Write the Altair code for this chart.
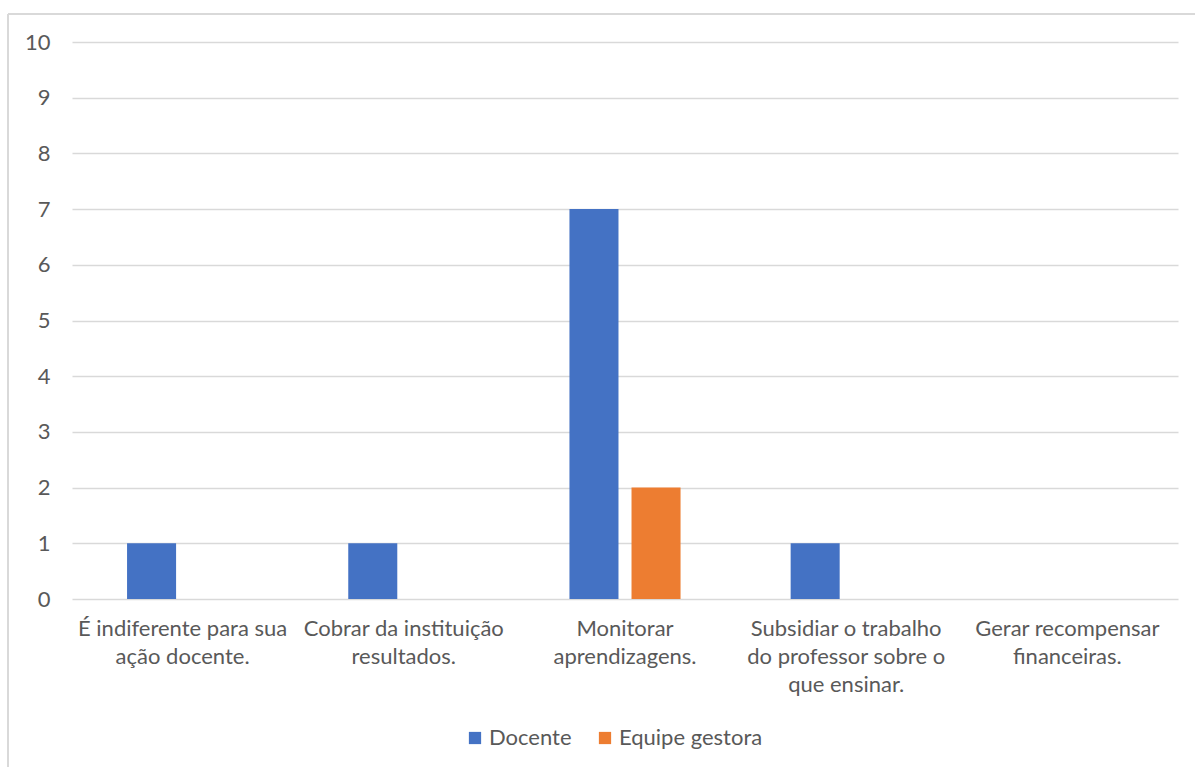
import altair as alt
import pandas as pd

# Survey answers: each category label is stored as its wrapped lines
category_lines = [
    ["É indiferente para sua", "ação docente."],
    ["Cobrar da instituição", "resultados."],
    ["Monitorar", "aprendizagens."],
    ["Subsidiar o trabalho", "do professor sobre o", "que ensinar."],
    ["Gerar recompensar", "financeiras."],
]
series = ["Docente", "Equipe gestora"]
docente = [1, 1, 7, 1, 0]
equipe_gestora = [0, 0, 2, 0, 0]
colors = ["#4472C4", "#ED7D31"]

categories = ["\n".join(lines) for lines in category_lines]
rows = []
for cat, d, e in zip(categories, docente, equipe_gestora):
    rows.append({"categoria": cat, "grupo": series[0], "valor": d})
    rows.append({"categoria": cat, "grupo": series[1], "valor": e})
df = pd.DataFrame(rows)

FONT = "Lato"
GRAY = "#595959"
FS = 22
W, H = 1106, 557

bars = alt.Chart(df).mark_bar().encode(
    x=alt.X(
        "categoria:N",
        sort=categories,
        scale=alt.Scale(paddingInner=0, paddingOuter=0),
        axis=alt.Axis(
            title=None,
            labelAngle=0,
            labelExpr="split(datum.label, '\\n')",
            labelFont=FONT,
            labelFontSize=FS,
            labelColor=GRAY,
            labelLineHeight=28,
            labelPadding=19,
            labelAlign="center",
            labelBaseline="top",
            labelLimit=300,
            domain=False,
            ticks=False,
            grid=False,
        ),
    ),
    xOffset=alt.XOffset(
        "grupo:N",
        sort=series,
        scale=alt.Scale(paddingInner=0.21, paddingOuter=0.887),
    ),
    y=alt.Y(
        "valor:Q",
        scale=alt.Scale(domain=[0, 10], nice=False),
        axis=alt.Axis(
            title=None,
            values=list(range(0, 11)),
            labelFont=FONT,
            labelFontSize=FS,
            labelColor=GRAY,
            labelPadding=22,
            domain=False,
            ticks=False,
            gridColor="#d9d9d9",
            gridWidth=1.5,
        ),
    ),
    color=alt.Color(
        "grupo:N",
        sort=series,
        scale=alt.Scale(domain=series, range=colors),
        legend=alt.Legend(
            title=None,
            orient="none",
            direction="horizontal",
            legendX=392,
            legendY=685,
            symbolType="square",
            symbolSize=150,
            symbolStrokeWidth=0,
            labelFont=FONT,
            labelFontSize=FS,
            labelColor=GRAY,
            labelOffset=3,
            columnPadding=22,
        ),
    ),
)

# Light gray frame around the whole chart
frame_top = alt.Chart(pd.DataFrame({"k": [0]})).mark_rule(
    color="#d9d9d9", strokeWidth=2
).encode(x=alt.value(-64), x2=alt.value(W + 40), y=alt.value(-28))
frame_left = alt.Chart(pd.DataFrame({"k": [0]})).mark_rule(
    color="#d9d9d9", strokeWidth=2
).encode(x=alt.value(-64), y=alt.value(-28), y2=alt.value(H + 200))

chart = (
    alt.layer(frame_top, frame_left, bars)
    .properties(
        width=W,
        height=H,
        autosize=alt.AutoSizeParams(type="none"),
        padding={"left": 72, "top": 42, "right": 17, "bottom": 168},
        background="white",
    )
    .configure_view(stroke=None)
)

chart.save("out.html", embed_options={"renderer": "svg", "actions": False})
